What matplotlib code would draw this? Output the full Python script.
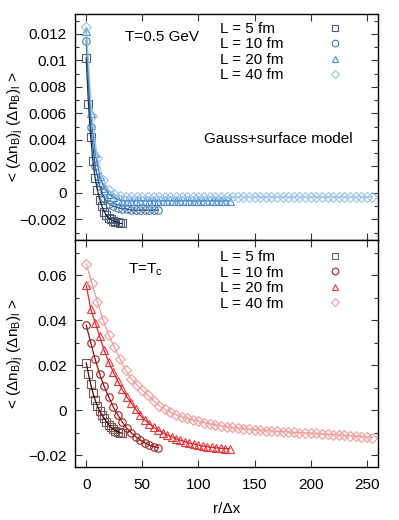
import matplotlib
matplotlib.use("Agg")
import matplotlib.pyplot as plt
from matplotlib.ticker import MultipleLocator, FuncFormatter
from matplotlib.lines import Line2D

plt.rcParams['font.family'] = ['Liberation Sans', 'DejaVu Sans']
plt.rcParams['mathtext.fontset'] = 'custom'
plt.rcParams['mathtext.rm'] = 'Liberation Sans'
plt.rcParams['mathtext.it'] = 'Liberation Sans:italic'
plt.rcParams['font.size'] = 11

# ---------------- data ----------------
labels = ["L = 5 fm", "L = 10 fm", "L = 20 fm", "L = 40 fm"]
markers = ["s", "o", "^", "D"]

r5 = [0, 2, 4, 6, 8, 10, 12, 14, 16, 18, 20, 22, 24, 26, 28, 30, 32]
r10 = [0, 4, 8, 12, 16, 20, 24, 28, 32, 36, 40, 44, 48, 52, 56, 60, 64]
r20 = [0, 4, 8, 12, 16, 20, 24, 28, 32, 36, 40, 44, 48, 52, 56, 60, 64,
       68, 72, 76, 80, 84, 88, 92, 96, 100, 104, 108, 112, 116, 120, 124, 128]
r40 = [0, 5, 10, 15, 20, 25, 30, 35, 40, 45, 50, 55, 60, 65, 70, 75, 80, 85,
       90, 95, 100, 105, 110, 115, 120, 125, 130, 135, 140, 145, 150, 155,
       160, 165, 170, 175, 180, 185, 190, 195, 200, 205, 210, 215, 220, 225,
       230, 235, 240, 245, 250, 255]

# T = 0.5 GeV (top panel)
hot5 = [0.0102, 0.0067, 0.0042, 0.0024, 0.0011, 0.0002, -0.0005, -0.0010,
        -0.0014, -0.0017, -0.0019, -0.0020, -0.0021, -0.0022, -0.0022,
        -0.0023, -0.0023]
hot10 = [0.0115, 0.0050, 0.0020, 0.0005, -0.0004, -0.0008, -0.0010, -0.0011,
         -0.0012, -0.0012, -0.0013, -0.0013, -0.0013, -0.0013, -0.0013,
         -0.0013, -0.0013]
hot20 = [0.0122, 0.0060, 0.0030, 0.0013, 0.0004, -0.0001, -0.0003, -0.0005,
         -0.0006, -0.0006, -0.0006, -0.0006, -0.0006, -0.0006, -0.0006,
         -0.0006, -0.0006, -0.0006, -0.0006, -0.0006, -0.0006, -0.0006,
         -0.0006, -0.0006, -0.0006, -0.0006, -0.0006, -0.0006, -0.0006,
         -0.0006, -0.0006, -0.0006, -0.0006]
hot40 = [0.0125, 0.0058, 0.0026, 0.0010, 0.0002, -0.0001, -0.0002, -0.0003,
         -0.0003, -0.0003, -0.0003, -0.0003, -0.0003, -0.0003, -0.0003,
         -0.0003, -0.0003, -0.0003, -0.0003, -0.0003, -0.0003, -0.0003,
         -0.0003, -0.0003, -0.0003, -0.0003, -0.0003, -0.0003, -0.0003,
         -0.0003, -0.0003, -0.0003, -0.0003, -0.0003, -0.0003, -0.0003,
         -0.0003, -0.0003, -0.0003, -0.0003, -0.0003, -0.0003, -0.0003,
         -0.0003, -0.0003, -0.0003, -0.0003, -0.0003, -0.0003, -0.0003,
         -0.0003, -0.0003]

# T = Tc (bottom panel)
crit5 = [0.0210, 0.0160, 0.0114, 0.0076, 0.0044, 0.0018, -0.0005, -0.0022,
         -0.0037, -0.0052, -0.0065, -0.0076, -0.0085, -0.0091, -0.0096,
         -0.0100, -0.0103]
crit10 = [0.0378, 0.0300, 0.0225, 0.0160, 0.0105, 0.0058, 0.0015, -0.0020,
          -0.0052, -0.0080, -0.0100, -0.0118, -0.0133, -0.0145, -0.0155,
          -0.0162, -0.0167]
crit20 = [0.0555, 0.0450, 0.0388, 0.0328, 0.0265, 0.0215, 0.0170, 0.0130,
          0.0092, 0.0060, 0.0033, 0.0005, -0.0022, -0.0043, -0.0060, -0.0076,
          -0.0089, -0.0100, -0.0110, -0.0119, -0.0127, -0.0134, -0.0141,
          -0.0147, -0.0152, -0.0156, -0.0160, -0.0163, -0.0166, -0.0168,
          -0.0170, -0.0171, -0.0172]
crit40 = [0.0650, 0.0565, 0.0480, 0.0400, 0.0335, 0.0281, 0.0228, 0.0178,
          0.0140, 0.0113, 0.0089, 0.0065, 0.0042, 0.0020, 0.0003, -0.0010,
          -0.0020, -0.0029, -0.0037, -0.0043, -0.0050, -0.0056, -0.0061,
          -0.0066, -0.0070, -0.0074, -0.0077, -0.0080, -0.0083, -0.0085,
          -0.0087, -0.0089, -0.0091, -0.0093, -0.0094, -0.0096, -0.0097,
          -0.0099, -0.0100, -0.0102, -0.0103, -0.0104, -0.0106, -0.0107,
          -0.0109, -0.0110, -0.0112, -0.0114, -0.0116, -0.0118, -0.0120,
          -0.0122]

top_lines = ["#1b2a45", "#2b5e92", "#3f86c4", "#98c2ea"]
top_marks = ["#4d5c74", "#4a7cb2", "#4a8dcc", "#98c2ea"]
bot_lines = ["#3c0a0a", "#8c1212", "#e3242b", "#f29a9a"]
bot_marks = ["#7d5555", "#a52020", "#e8363c", "#f29a9a"]

MS = {"s": 5.2, "o": 5.4, "^": 5.4, "D": 4.6}

# ---------------- figure ----------------
fig = plt.figure(figsize=(3.99, 5.2), dpi=100)
L, R = 75 / 399, 378 / 399
ax1 = fig.add_axes([L, 1 - 240 / 520, R - L, (240 - 14) / 520])
ax2 = fig.add_axes([L, 1 - 467 / 520, R - L, (467 - 240) / 520])

fmt = FuncFormatter(lambda v, p: ("%g" % v).replace("-", "\u2212") if abs(v) > 1e-12 else "0")

def style(ax, ymaj, ymin):
    ax.set_xlim(-10, 260)
    ax.xaxis.set_major_locator(MultipleLocator(50))
    ax.yaxis.set_major_locator(MultipleLocator(ymaj))
    ax.yaxis.set_minor_locator(MultipleLocator(ymin))
    ax.yaxis.set_major_formatter(fmt)
    ax.tick_params(which='both', direction='in', top=True, right=True,
                   width=0.8, color='#333333', labelsize=11)
    ax.tick_params(which='major', length=5)
    ax.tick_params(which='minor', length=3)
    ax.tick_params(axis='y', pad=6)
    ax.tick_params(axis='x', pad=8)
    for s in ax.spines.values():
        s.set_linewidth(1.0)

def draw(ax, rs, ys, lcols, mcols):
    for r, y, m, lc, mc in zip(rs, ys, markers, lcols, mcols):
        ax.plot(r, y, '-', color=lc, lw=0.9, zorder=3)
        ax.plot(r, y, linestyle='none', marker=m, ms=MS[m], mfc='none',
                mec=mc, mew=0.8, zorder=2)

def legend(ax, mcols, ytop):
    h1 = [Line2D([], [], linestyle='none') for _ in labels]
    lg1 = ax.legend(h1, labels, loc='upper left', bbox_to_anchor=(0.478, ytop),
                    frameon=False, handlelength=0, handletextpad=0,
                    borderpad=0, borderaxespad=0, labelspacing=0.1, fontsize=11)
    ax.add_artist(lg1)
    h2 = [Line2D([], [], linestyle='none', marker=m, ms=MS[m] - 0.6,
                 mfc='none', mec=c, mew=0.8) for m, c in zip(markers, mcols)]
    ax.legend(h2, [" "] * 4, loc='upper left', bbox_to_anchor=(0.828, ytop),
              frameon=False, handlelength=1.2, handletextpad=0,
              borderpad=0, borderaxespad=0, labelspacing=0.1, fontsize=11)

draw(ax1, [r5, r10, r20, r40], [hot5, hot10, hot20, hot40], top_lines, top_marks)
ax1.set_ylim(-0.00355, 0.0135)
style(ax1, 0.002, 0.001)
ax1.tick_params(labelbottom=False)
ax1.text(0.165, 0.898, "T=0.5 GeV", transform=ax1.transAxes, va='center', ha='left')
ax1.text(0.426, 0.447, "Gauss+surface model", transform=ax1.transAxes, va='center', ha='left')
legend(ax1, top_marks, 0.965)

draw(ax2, [r5, r10, r20, r40], [crit5, crit10, crit20, crit40], bot_lines, bot_marks)
ax2.set_ylim(-0.0253, 0.0756)
style(ax2, 0.02, 0.01)
ax2.text(0.175, 0.868, r"T=T$_\mathrm{c}$", transform=ax2.transAxes, va='center', ha='left')
legend(ax2, bot_marks, 0.955)
ax2.set_xlabel("r/\u0394x", fontsize=11, labelpad=7)

ylab = r"< ($\Delta$n$_\mathrm{B}$)$_\mathrm{j}$ ($\Delta$n$_\mathrm{B}$)$_\mathrm{l}$ >"
fig.text(15 / 399, 1 - 127 / 520, ylab, rotation=90, va='center', ha='center', fontsize=11)
fig.text(15 / 399, 1 - 354 / 520, ylab, rotation=90, va='center', ha='center', fontsize=11)

fig.savefig("out.png", dpi=100)
